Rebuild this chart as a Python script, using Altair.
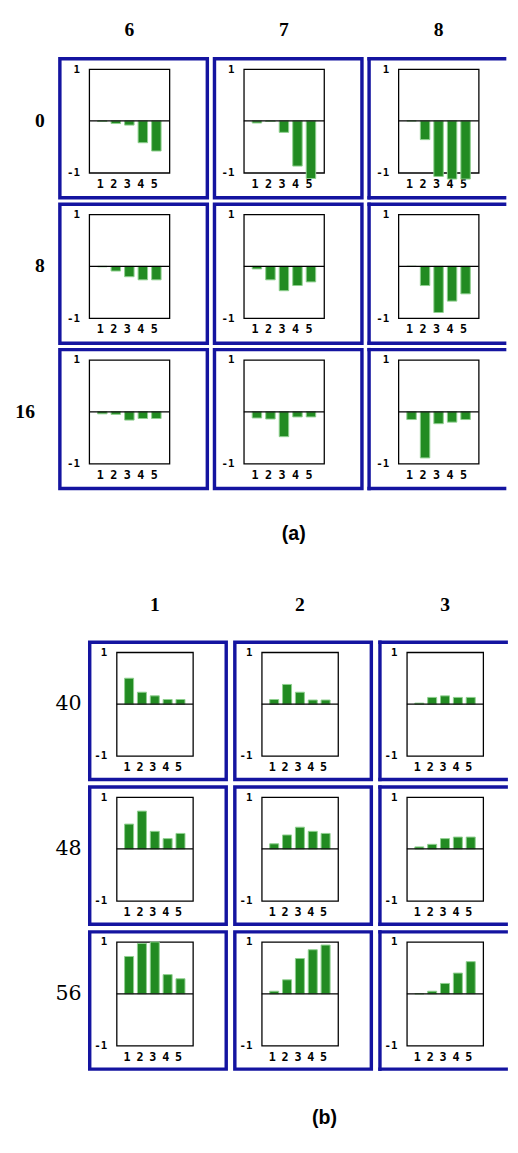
import altair as alt
import pandas as pd

# ---------------- data ----------------
bars = [1, 2, 3, 4, 5]

a_cols = [6, 7, 8]
a_rows = [0, 8, 16]
a_row0 = [[-0.01, -0.05, -0.08, -0.42, -0.58],
          [-0.04, -0.01, -0.22, -0.87, -1.11],
          [0.00, -0.36, -1.07, -1.12, -1.12]]
a_row8 = [[-0.01, -0.09, -0.20, -0.26, -0.26],
          [-0.05, -0.26, -0.47, -0.37, -0.30],
          [0.00, -0.37, -0.89, -0.67, -0.53]]
a_row16 = [[-0.04, -0.05, -0.16, -0.13, -0.13],
           [-0.12, -0.14, -0.48, -0.10, -0.10],
           [-0.15, -0.89, -0.23, -0.20, -0.15]]

b_cols = [1, 2, 3]
b_rows = [40, 48, 56]
b_row40 = [[0.50, 0.23, 0.16, 0.09, 0.09],
           [0.09, 0.38, 0.23, 0.08, 0.08],
           [0.02, 0.13, 0.16, 0.13, 0.13]]
b_row48 = [[0.48, 0.73, 0.34, 0.20, 0.30],
           [0.10, 0.27, 0.42, 0.34, 0.30],
           [0.04, 0.09, 0.20, 0.23, 0.23]]
b_row56 = [[0.72, 0.97, 1.00, 0.37, 0.29],
           [0.05, 0.27, 0.68, 0.85, 0.94],
           [0.00, 0.05, 0.20, 0.40, 0.62]]

GREEN = "#228b22"
EDGE = "#8fd08f"
BLUE = "#1414a0"
MONO = "DejaVu Sans Mono"
SERIF = "Liberation Serif"


def table(rows, cols, grids):
    recs = []
    for r, grid in zip(rows, grids):
        for c, vals in zip(cols, grid):
            for b, v in zip(bars, vals):
                recs.append({"row": r, "col": c, "bar": b, "v": v})
    return pd.DataFrame(recs)


def part(df, rows, cols, W, H, fl, fr, ft, fb, fcut, colsp, rowsp,
         cap, cap_dx, cap_off, colpad, rowpad, rowfont, rowsize, rowweight):
    last = cols[-1]
    xs = alt.X("bar:O", scale=alt.Scale(paddingInner=0.3, paddingOuter=0.62),
               axis=alt.Axis(title=None, domain=False, ticks=False, labelAngle=0,
                             labelPadding=6, labelOffset=-2, labelFont=MONO,
                             labelFontSize=12, labelFontWeight="bold", labelColor="black"))
    ys = alt.Y("v:Q", scale=alt.Scale(domain=[-1, 1], nice=False),
               axis=alt.Axis(title=None, values=[-1, 1], grid=False, domain=False, ticks=False,
                             labelExpr="datum.value > 0 ? '1' : '-1'", labelPadding=10,
                             labelFont=MONO, labelFontSize=11, labelFontWeight="bold",
                             labelColor="black", labelFlush=False, labelBaseline="middle"))
    bar_l = alt.Chart().mark_bar(color=GREEN, stroke=EDGE, strokeWidth=1).encode(x=xs, y=ys)
    zero = alt.Chart().mark_rule(color="black", strokeWidth=1.3).encode(
        y=alt.datum(0), x=alt.value(0), x2=alt.value(W)).transform_filter("datum.bar == 1")
    frame = alt.Chart().mark_rect(filled=False, stroke=BLUE, strokeWidth=3.5).encode(
        x=alt.value(fl), x2=alt.value(fr), y=alt.value(ft), y2=alt.value(fb)
    ).transform_filter(f"datum.bar == 1 && datum.col != {last}")
    lastf = f"datum.bar == 1 && datum.col == {last}"
    top = alt.Chart().mark_rule(color=BLUE, strokeWidth=3.5, strokeCap="square").encode(
        x=alt.value(fl), x2=alt.value(fcut), y=alt.value(ft)).transform_filter(lastf)
    bot = alt.Chart().mark_rule(color=BLUE, strokeWidth=3.5, strokeCap="square").encode(
        x=alt.value(fl), x2=alt.value(fcut), y=alt.value(fb)).transform_filter(lastf)
    left = alt.Chart().mark_rule(color=BLUE, strokeWidth=3.5, strokeCap="square").encode(
        x=alt.value(fl), y=alt.value(ft), y2=alt.value(fb)).transform_filter(lastf)

    layer = alt.layer(bar_l, zero, frame, top, bot, left, data=df).properties(width=W, height=H)
    return layer.facet(
        row=alt.Row("row:O", sort=rows,
                    header=alt.Header(title=None, labelAngle=0, labelFont=rowfont,
                                      labelFontSize=rowsize, labelFontWeight=rowweight,
                                      labelColor="black", labelPadding=rowpad)),
        column=alt.Column("col:O", sort=cols,
                          header=alt.Header(title=None, labelFont=SERIF, labelFontSize=20,
                                            labelFontWeight="bold", labelColor="black",
                                            labelPadding=colpad)),
        spacing={"row": rowsp, "column": colsp},
        bounds="flush",
        title=alt.TitleParams(cap, orient="bottom", font="Liberation Sans", fontSize=20,
                              fontWeight="bold", color="black", offset=cap_off, dx=cap_dx,
                              anchor="middle", frame="bounds"),
    ).resolve_axis(x="independent", y="independent")


def spacer(w):
    return alt.Chart(pd.DataFrame({"s": [0]})).mark_point(opacity=0, size=1).encode(
        x=alt.value(w / 2), y=alt.value(0.5)).properties(
        width=w, height=1, view=alt.ViewBackground(strokeOpacity=0))


dfa = table(a_rows, a_cols, [a_row0, a_row8, a_row16])
dfb = table(b_rows, b_cols, [b_row40, b_row48, b_row56])

ca = part(dfa, a_rows, a_cols, 82, 106, -30, 120.7, -10.5, 131.5, 108.5, 76, 42.6,
          "(a)", 33, 33, 30, 35.5, SERIF, 20, "bold")
cb = part(dfb, b_rows, b_cols, 78, 106, -27.5, 112, -10.3, 130, 101.5, 70.3, 42,
          "(b)", 43, 37, 38, 9, "DejaVu Serif", 21, "normal")

chart = alt.vconcat(
    alt.hconcat(spacer(2), ca, spacing=0),
    alt.hconcat(spacer(43), cb, spacing=0),
    spacing=53,
).configure_view(stroke="black", strokeWidth=1.3).properties(
    padding={"left": 5, "top": 0, "right": 0, "bottom": 0}, background="white")

chart.save("out.html", embed_options={"renderer": "svg", "actions": False})
